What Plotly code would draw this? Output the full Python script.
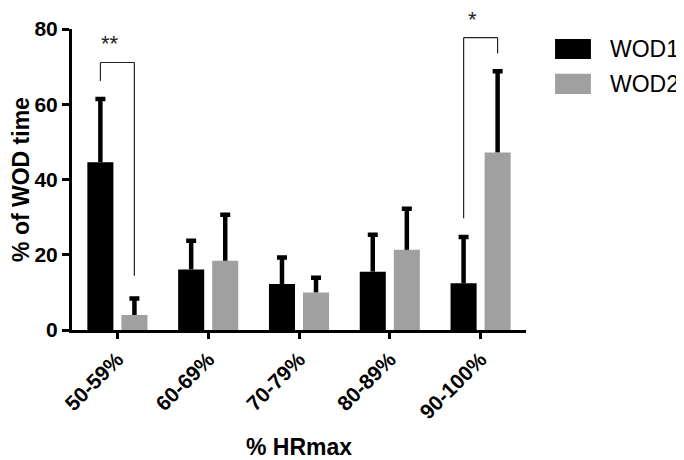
import plotly.graph_objects as go

categories = ["50-59%", "60-69%", "70-79%", "80-89%", "90-100%"]
wod1_mean = [44.6, 16.1, 12.2, 15.5, 12.4]
wod1_sd = [16.8, 7.6, 7.1, 9.8, 12.3]
wod2_mean = [4.0, 18.4, 10.0, 21.3, 47.2]
wod2_sd = [4.4, 12.2, 3.9, 10.9, 21.6]
series_names = ["WOD1", "WOD2"]
colors = ["black", "#a0a0a0"]

fig = go.Figure()

for name, color, mean, sd in zip(series_names, colors, [wod1_mean, wod2_mean], [wod1_sd, wod2_sd]):
    # bar with the error stem only (no shoe on the bar top)
    fig.add_trace(go.Bar(
        x=categories, y=mean, name=name, offsetgroup=name,
        marker=dict(color=color, line=dict(width=0)),
        error_y=dict(type="data", symmetric=False, array=sd, arrayminus=[0] * len(sd),
                     color="black", thickness=4.5, width=0),
    ))
    # invisible bar carrying the cap at the end of the stem
    fig.add_trace(go.Bar(
        x=categories, y=[m + s for m, s in zip(mean, sd)], offsetgroup=name,
        marker=dict(color="rgba(0,0,0,0)", line=dict(width=0)),
        error_y=dict(type="data", array=[0] * len(sd), color="black", thickness=4.5, width=5),
        showlegend=False, hoverinfo="skip",
    ))

# significance brackets: (category index, label, top, left leg end, right leg end)
brackets = [(0, "**", 71.1, 66.2, 14.4), (4, "*", 77.7, 29.7, 73.5)]
off = 0.187
for i, label, top, yl, yr in brackets:
    line = dict(color="#222", width=1.2)
    fig.add_shape(type="line", xref="x", yref="y", x0=i - off, x1=i - off, y0=yl, y1=top, line=line)
    fig.add_shape(type="line", xref="x", yref="y", x0=i - off, x1=i + off, y0=top, y1=top, line=line)
    fig.add_shape(type="line", xref="x", yref="y", x0=i + off, x1=i + off, y0=top, y1=yr, line=line)
    fig.add_annotation(x=i - off + 0.1, y=top, yshift=4, xref="x", yref="y", text=label,
                       showarrow=False, font=dict(size=22, color="#222"), yanchor="bottom")

# legend drawn as wide swatches
for k, (name, color) in enumerate(zip(series_names, colors)):
    y0 = 0.900 - k * 0.116
    fig.add_shape(type="rect", xref="paper", yref="paper", x0=1.064, x1=1.143, y0=y0, y1=y0 + 0.067,
                  fillcolor=color, line=dict(width=0))
    fig.add_annotation(x=1.181, y=y0 + 0.034, xref="paper", yref="paper", text=name, showarrow=False,
                       xanchor="left", yanchor="middle", font=dict(size=23, color="black"))

fig.update_layout(
    width=676, height=452,
    margin=dict(l=64, r=158, t=21, b=130),
    barmode="group", bargap=0.25, bargroupgap=0.235, barcornerradius=3,
    plot_bgcolor="white", paper_bgcolor="white",
    showlegend=False,
    font=dict(family="Arial, Liberation Sans, sans-serif", color="black"),
)
fig.update_yaxes(
    range=[0, 80], tickvals=[0, 20, 40, 60, 80],
    showline=True, linewidth=3, linecolor="black",
    ticks="outside", ticklen=7, tickwidth=3, tickcolor="black",
    showgrid=False, zeroline=False, automargin=False,
    tickfont=dict(size=21, weight="bold"),
    title=dict(text="% of WOD time", font=dict(size=23, weight="bold"), standoff=8),
)
fig.update_xaxes(
    range=[-0.5, 4.5],
    showline=True, linewidth=3, linecolor="black",
    ticks="outside", ticklen=6, tickwidth=3, tickcolor="black",
    showgrid=False, zeroline=False, automargin=False, tickangle=-45,
    tickfont=dict(size=21, weight="bold"),
    title=dict(text="% HRmax", font=dict(size=23, weight="bold"), standoff=17),
)

fig.write_html("out.html")
